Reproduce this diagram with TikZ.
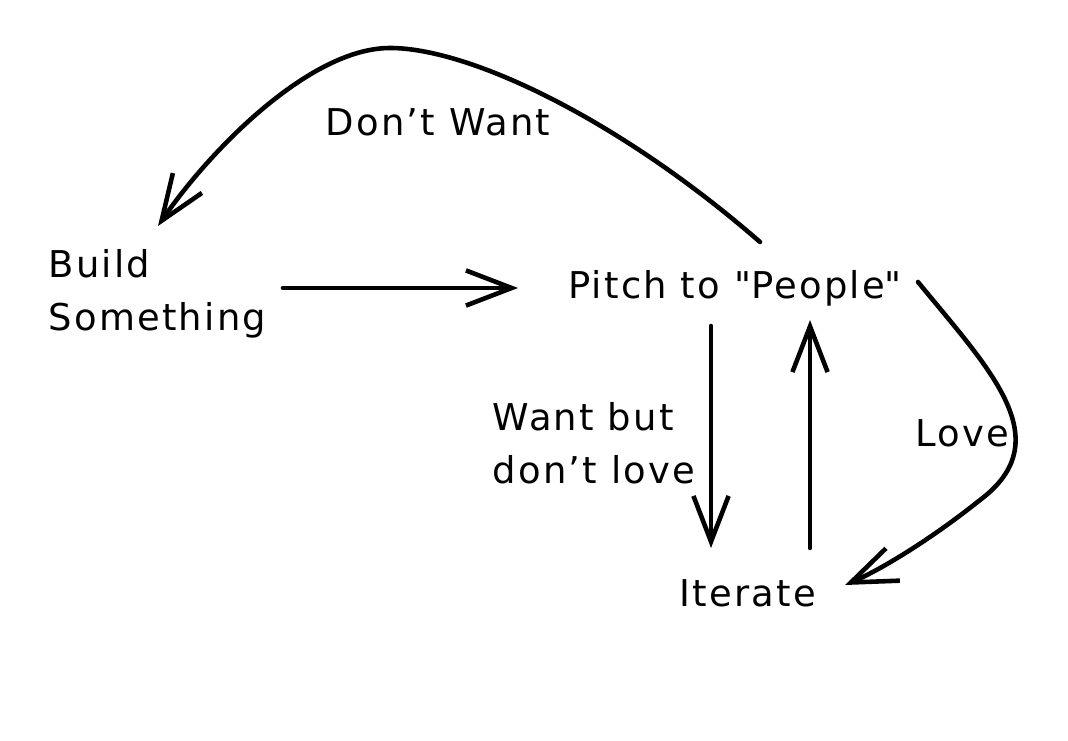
\documentclass[tikz,border=0pt]{standalone}
\usepackage{fontspec}
\setmainfont[LetterSpace=6]{DejaVu Sans}
\usetikzlibrary{arrows.meta}
\tikzset{%
  >={Straight Barb[length=13pt,width=10pt,line width=1.3pt]},
  % Specifications for style of nodes:
       label/.style = {align=left, font=\fontsize{10.5}{15}\selectfont, inner sep=0pt},
    stepnode/.style = {label},
  % Specifications for the strokes:
        flow/.style = {->, line width=1.3pt, line cap=round, line join=round},
}

\begin{document}
\begin{tikzpicture}[x=0.01cm, y=-0.01cm]
  \useasboundingbox (0,0) rectangle (1068,740);
  % Specification of nodes (position, etc.)
  \node (build)   [stepnode, anchor=west] at (48,294)  {Build\\Something};
  \node (pitch)   [stepnode]              at (735,288) {Pitch to \textquotedbl People\textquotedbl};
  \node (iterate) [stepnode]              at (748,593) {Iterate};
  % Coordinates for the ends of the connectors
  \coordinate (buildE)   at (283,288);
  \coordinate (pitchW)   at (518,288);
  \coordinate (pitchTop) at (760,242);
  \coordinate (buildTop) at (158,226);
  \coordinate (pitchDn)  at (711,326);
  \coordinate (iterUpL)  at (711,548);
  \coordinate (iterUpR)  at (810,548);
  \coordinate (pitchUp)  at (810,320);
  \coordinate (pitchNE)  at (918,282);
  \coordinate (iterE)    at (845,585);
  % Specification of lines between nodes specified above
  % with aditional nodes for description
  \draw[flow] (buildE) -- (pitchW);
  \draw[flow] (pitchTop) .. controls (620,120) and (470,48) .. (390,48)
                         .. controls (310,48) and (210,150) .. (buildTop);
  \node (dontwant) [label] at (438,122) {Don't Want};
  \draw[flow] (pitchDn) -- (iterUpL);
  \node (wantbut)  [label, anchor=west] at (492,443) {Want but\\don't love};
  \draw[flow] (iterUpR) -- (pitchUp);
  \draw[flow] (pitchNE) .. controls (990,370) and (1060,440) .. (980,500)
                        .. controls (930,540) and (880,570) .. (iterE);
  \node (love)     [label] at (962,433) {Love};
\end{tikzpicture}
\end{document}
